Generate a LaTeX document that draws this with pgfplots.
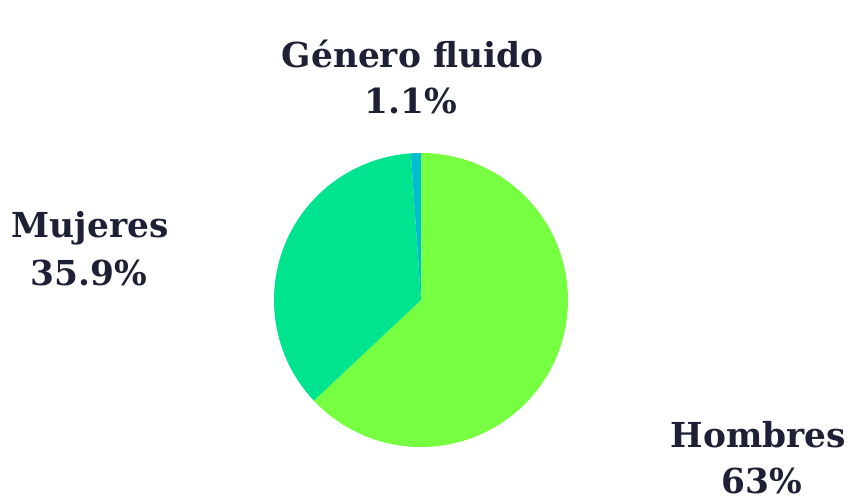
\documentclass[border=0pt]{standalone}
\usepackage{fontspec}
\setmainfont{DejaVu Serif}
\usepackage{pgfplots}
\usepackage{pgfplotstable}
\pgfplotsset{compat=1.18}
\definecolor{cHombres}{HTML}{77FF42}
\definecolor{cMujeres}{HTML}{00E38F}
\definecolor{cFluido}{HTML}{00BCD0}
\definecolor{txt}{HTML}{1E2136}
\tikzset{lbl/.style={font=\fontsize{17.2bp}{20bp}\selectfont\bfseries, text=txt, inner sep=0pt, anchor=base}}
\pgfplotstableread{
label pct
Hombres 63
Mujeres 35.9
Fluido 1.1
}\piedata
\pgfplotstablegetelem{0}{pct}\of\piedata \let\pA\pgfplotsretval
\pgfplotstablegetelem{1}{pct}\of\piedata \let\pB\pgfplotsretval
\pgfplotstablegetelem{2}{pct}\of\piedata \let\pC\pgfplotsretval
\pgfmathsetmacro\aA{90}
\pgfmathsetmacro\aB{\aA-3.6*\pA}
\pgfmathsetmacro\aC{\aB-3.6*\pB}
\pgfmathsetmacro\aD{\aC-3.6*\pC}
\begin{document}
\begin{tikzpicture}
\begin{axis}[hide axis, x=0.5bp, y=0.5bp, xmin=0, xmax=849, ymin=0, ymax=499,
  clip=false, at={(0,0)}, anchor=south west]
\fill[cHombres] (axis cs:421,199) -- ++(\aA:73.5bp) arc[start angle=\aA, end angle=\aB, radius=73.5bp] -- cycle;
\fill[cMujeres] (axis cs:421,199) -- ++(\aB:73.5bp) arc[start angle=\aB, end angle=\aC, radius=73.5bp] -- cycle;
\fill[cFluido] (axis cs:421,199) -- ++(\aC:73.5bp) arc[start angle=\aC, end angle=\aD, radius=73.5bp] -- cycle;
\node[lbl] at (axis cs:412.5,432) {Género fluido};
\node[lbl] at (axis cs:411,386) {1.1\%};
\node[lbl] at (axis cs:90,262) {Mujeres};
\node[lbl] at (axis cs:89,214) {35.9\%};
\node[lbl] at (axis cs:758.5,52) {Hombres};
\node[lbl] at (axis cs:762,6) {63\%};
\end{axis}
\useasboundingbox (0,0) rectangle (424.5bp,249.5bp);
\end{tikzpicture}
\end{document}
